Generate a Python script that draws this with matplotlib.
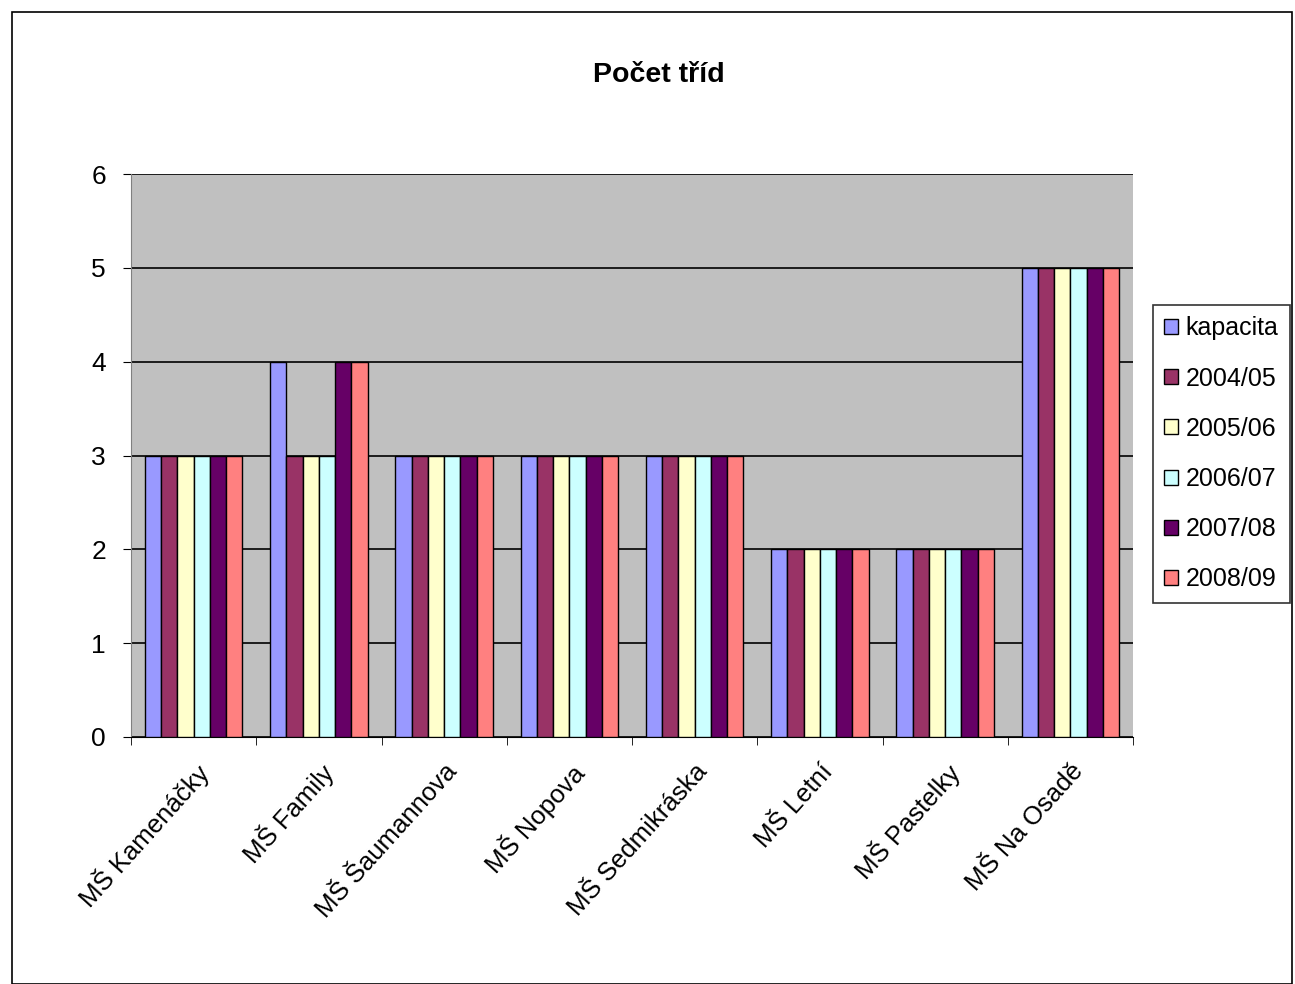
import matplotlib.pyplot as plt
import matplotlib.patches as patches
import numpy as np

plt.rcParams['font.family'] = ['Liberation Sans', 'DejaVu Sans']

categories = ['MŠ Kamenáčky', 'MŠ Family', 'MŠ Šaumannova', 'MŠ Nopova',
              'MŠ Sedmikráska', 'MŠ Letní', 'MŠ Pastelky', 'MŠ Na Osadě']
series_names = ['kapacita', '2004/05', '2005/06', '2006/07', '2007/08', '2008/09']
kapacita = [3, 4, 3, 3, 3, 2, 2, 5]
r2004 = [3, 3, 3, 3, 3, 2, 2, 5]
r2005 = [3, 3, 3, 3, 3, 2, 2, 5]
r2006 = [3, 3, 3, 3, 3, 2, 2, 5]
r2007 = [3, 4, 3, 3, 3, 2, 2, 5]
r2008 = [3, 4, 3, 3, 3, 2, 2, 5]
colors = ['#9999FF', '#993366', '#FFFFCC', '#CCFFFF', '#660066', '#FF8080']

series = [kapacita, r2004, r2005, r2006, r2007, r2008]

fig = plt.figure(figsize=(12.95, 9.84), dpi=100)
ax = fig.add_axes([131 / 1295, 1 - 737 / 984, (1133 - 131) / 1295, (737 - 174) / 984])
ax.set_facecolor('#C0C0C0')

x = np.arange(len(categories))
w = 0.13
for i, (name, vals) in enumerate(zip(series_names, series)):
    ax.bar(x + (i - 2.5) * w, vals, w, color=colors[i], edgecolor='black',
           linewidth=1.0, label=name, zorder=3)

ax.set_xlim(-0.5, len(categories) - 0.5)
ax.set_ylim(0, 6)
ax.set_yticks(range(0, 7))
ax.yaxis.grid(True, color='black', linewidth=1.2, zorder=1)
ax.set_axisbelow(True)
for s in ['top', 'right']:
    ax.spines[s].set_visible(False)
ax.spines['left'].set_color('#808080')
ax.spines['bottom'].set_color('black')
ax.tick_params(axis='y', labelsize=19, length=6, direction='out', pad=12)
ax.set_xticks(x)
ax.set_xticklabels(categories, rotation=48, ha='right', rotation_mode='anchor',
                   fontsize=18.5)
ax.tick_params(axis='x', which='major', length=0, pad=16)
ax.set_xticks(np.arange(-0.5, len(categories)), minor=True)
ax.tick_params(axis='x', which='minor', length=6, direction='out')

fig.text(0.509, 1 - 75 / 984, 'Počet tříd', ha='center', va='center',
         fontsize=20.5, fontweight='bold')

leg = fig.legend(loc='upper left', bbox_to_anchor=(1153 / 1295, 1 - 305 / 984),
                 fontsize=18, frameon=True, fancybox=False, edgecolor='black',
                 handlelength=0.55, handleheight=0.55, handletextpad=0.3,
                 labelspacing=1.05, borderpad=0.45, borderaxespad=0)
leg.get_frame().set_linewidth(1.2)

fig.patches.append(patches.Rectangle((12 / 1295, 0), 1 - 12 / 1295 - 0.002, 1 - 12 / 984,
                                     transform=fig.transFigure, fill=False,
                                     edgecolor='black', linewidth=1.2))

fig.savefig('out.png', dpi=100)
